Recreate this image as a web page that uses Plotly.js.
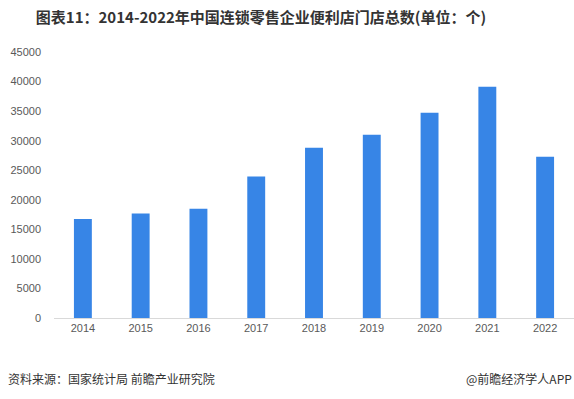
<!DOCTYPE html>
<html>
<head>
<meta charset="utf-8">
<script src="https://cdn.plot.ly/plotly-3.0.1.min.js"></script>
<style>html,body{margin:0;padding:0;background:#fff;}#chart{width:574px;height:399px;}</style>
</head>
<body>
<div id="chart"></div>
<script>
var years = ['2014','2015','2016','2017','2018','2019','2020','2021','2022'];
var stores = [16760, 17660, 18500, 23920, 28790, 30990, 34720, 39130, 27280];
var yTicks = [0,5000,10000,15000,20000,25000,30000,35000,40000,45000];
var titleText = '图表11：2014-2022年中国连锁零售企业便利店门店总数(单位：个)';
var sourceText = '资料来源：国家统计局 前瞻产业研究院';
var brandText = '@前瞻经济学人APP';

var cjk = '"Microsoft YaHei","Noto Sans CJK SC",sans-serif';
var trace = {
  type: 'bar', x: years, y: stores,
  marker: {color: '#3785E6'},
  hoverinfo: 'x+y'
};
var layout = {
  width: 574, height: 399,
  margin: {l: 54, r: 0, t: 52, b: 81},
  paper_bgcolor: '#fff', plot_bgcolor: '#fff',
  bargap: 0.69,
  showlegend: false,
  title: {text: '<b>' + titleText + '</b>', font: {family: cjk, size: 15, color: '#333333'},
          x: 261/574, xanchor: 'center', xref: 'container', y: 1 - 18/399, yanchor: 'middle', yref: 'container'},
  xaxis: {type: 'category', showline: true, linecolor: '#d9d9d9', linewidth: 1, ticks: '',
          tickfont: {family: 'Arial, "Liberation Sans", sans-serif', size: 11, color: '#595959'},
          showgrid: false, zeroline: false, fixedrange: true},
  yaxis: {range: [0, 45000], tickvals: yTicks, ticktext: yTicks.map(String), showgrid: false, zeroline: false,
          showline: false, ticks: '', ticklabelstandoff: 12,
          tickfont: {family: 'Arial, "Liberation Sans", sans-serif', size: 11, color: '#595959'}, fixedrange: true},
  annotations: [
    {text: sourceText, xref: 'paper', yref: 'paper', x: 7/574 - 54/520, xanchor: 'left',
     y: 0, yshift: -60, yanchor: 'middle', showarrow: false, font: {family: cjk, size: 12, color: '#333333'}},
    {text: brandText, xref: 'paper', yref: 'paper', x: 1, xanchor: 'right',
     y: 0, yshift: -60, yanchor: 'middle', showarrow: false, font: {family: cjk, size: 12, color: '#333333'}}
  ]
};
Plotly.newPlot('chart', [trace], layout, {displayModeBar: false, responsive: false});
</script>
</body>
</html>
